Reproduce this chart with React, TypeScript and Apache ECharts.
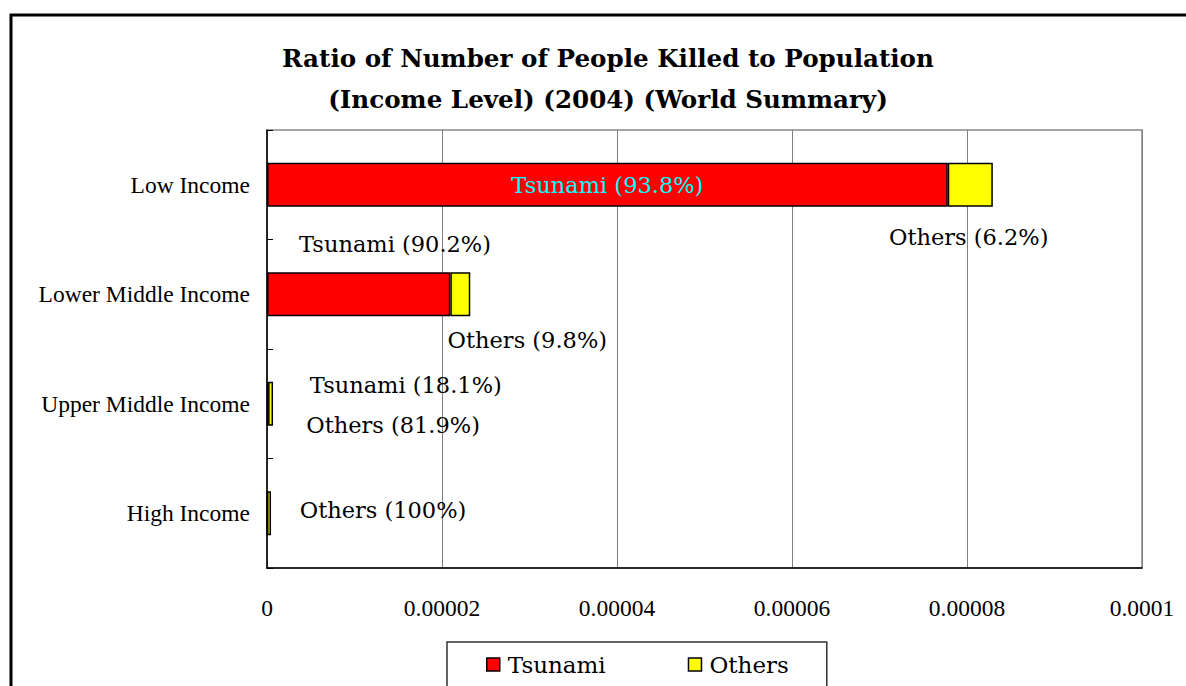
import React, { useEffect, useRef } from "react";
import * as echarts from "echarts";

const categories = ["Low Income", "Lower Middle Income", "Upper Middle Income", "High Income"];
const tsunamiValues = [7.78e-5, 2.095e-5, 1.25e-7, 0];
const othersValues = [5.15e-6, 2.28e-6, 5.65e-7, 4.6e-7];
const tsunamiLabels = ["Tsunami (93.8%)", "Tsunami (90.2%)", "Tsunami (18.1%)", ""];
const othersLabels = ["Others (6.2%)", "Others (9.8%)", "Others (81.9%)", "Others (100%)"];
const xTickLabels = ["0", "0.00002", "0.00004", "0.00006", "0.00008", "0.0001"];
const titleLines = ["Ratio of Number of People Killed to Population", "(Income Level) (2004) (World Summary)"];

const LABEL_FONT = "'DejaVu Serif', serif";
const AXIS_FONT = "'Liberation Serif', 'Times New Roman', serif";

// label placements relative to each bar rectangle (manual, like the original)
const tsunamiLabelPos: any[] = ["inside", [128, -28], [139, 3], null];
const othersLabelPos: any[] = [[21, 74], [77, 68], [125, 43], [116, 19]];

export default function App() {
  const ref = useRef<HTMLDivElement>(null);
  useEffect(() => {
    if (!ref.current) return;
    const chart = echarts.init(ref.current, undefined, { renderer: "svg" });
    const labelBase = {
      fontFamily: LABEL_FONT,
      fontSize: 22.5,
      color: "#000",
      align: "center",
      verticalAlign: "middle",
    };
    const tsunamiData = tsunamiValues.map((v, i) => {
      const pos = tsunamiLabelPos[i];
      return {
        value: v,
        label: pos
          ? {
              show: true,
              ...labelBase,
              position: pos,
              color: pos === "inside" ? "#00FFFF" : "#000",
              formatter: tsunamiLabels[i],
            }
          : { show: false },
      };
    });
    const othersData = othersValues.map((v, i) => ({
      value: v,
      label: {
        show: true,
        ...labelBase,
        position: othersLabelPos[i],
        formatter: othersLabels[i],
      },
    }));
    chart.setOption({
      animation: false,
      backgroundColor: "#fff",
      title: {
        text: titleLines.join("\n"),
        left: 603,
        textAlign: "center",
        top: 33,
        textStyle: {
          fontFamily: LABEL_FONT,
          fontSize: 24.6,
          fontWeight: "bold",
          color: "#000",
          lineHeight: 41,
        },
      },
      graphic: [
        {
          type: "rect",
          shape: { x: 11, y: 15, width: 1300, height: 800 },
          style: { fill: "none", stroke: "#000", lineWidth: 3 },
          silent: true,
          z: 100,
        },
      ],
      legend: {
        left: 447,
        top: 642,
        padding: [11, 38, 30, 39],
        itemWidth: 13,
        itemHeight: 13,
        itemGap: 82,
        icon: "rect",
        backgroundColor: "#fff",
        borderColor: "#333",
        borderWidth: 1.5,
        itemStyle: { borderColor: "#000", borderWidth: 1.5 },
        textStyle: { fontFamily: LABEL_FONT, fontSize: 23, color: "#000", padding: [0, 0, 0, 3] },
        data: ["Tsunami", "Others"],
      },
      grid: {
        left: 267,
        right: 44,
        top: 130,
        bottom: 118,
        show: true,
        borderColor: "#888",
        borderWidth: 1.5,
        containLabel: false,
      },
      xAxis: {
        type: "value",
        min: 0,
        max: 0.0001,
        interval: 0.00002,
        axisLine: { show: true, lineStyle: { color: "#000", width: 1.5 } },
        axisTick: { show: false },
        splitLine: { show: true, lineStyle: { color: "#808080", width: 1 } },
        axisLabel: {
          margin: 28,
          fontFamily: AXIS_FONT,
          fontSize: 23.5,
          color: "#000",
          formatter: (_v: number, i: number) => xTickLabels[i],
        },
      },
      yAxis: {
        type: "category",
        inverse: true,
        data: categories,
        axisLine: { show: true, lineStyle: { color: "#000", width: 1.5 } },
        axisTick: { show: true, inside: true, length: 6, lineStyle: { color: "#000" } },
        axisLabel: { margin: 17, fontFamily: AXIS_FONT, fontSize: 23.5, color: "#000" },
      },
      series: [
        {
          name: "Tsunami",
          type: "bar",
          stack: "total",
          barWidth: 44,
          itemStyle: { color: "#FF0000", borderColor: "#000", borderWidth: 1.5 },
          data: tsunamiData,
        },
        {
          name: "Others",
          type: "bar",
          stack: "total",
          barWidth: 44,
          itemStyle: { color: "#FFFF00", borderColor: "#000", borderWidth: 1.5 },
          data: othersData,
        },
      ],
    });
    return () => chart.dispose();
  }, []);
  return <div ref={ref} style={{ position: "fixed", left: 0, top: 0, width: 1186, height: 686 }} />;
}
